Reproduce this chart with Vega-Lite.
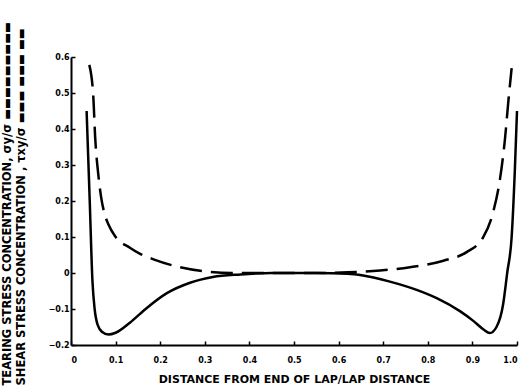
{
  "$schema": "https://vega.github.io/schema/vega-lite/v6.json",
  "width": 446,
  "height": 288,
  "autosize": {"type": "none"},
  "padding": {"left": 71, "right": 10, "top": 57, "bottom": 43},
  "background": "white",
  "config": {"view": {"stroke": null}},
  "datasets": {
    "tearing": [
      {"x": 0.035, "y": 0.45}, {"x": 0.042, "y": 0.2}, {"x": 0.048, "y": -0.02},
      {"x": 0.053, "y": -0.1}, {"x": 0.06, "y": -0.145}, {"x": 0.07, "y": -0.164},
      {"x": 0.084, "y": -0.171}, {"x": 0.1, "y": -0.166}, {"x": 0.132, "y": -0.138},
      {"x": 0.17, "y": -0.097}, {"x": 0.215, "y": -0.056}, {"x": 0.267, "y": -0.027},
      {"x": 0.318, "y": -0.011}, {"x": 0.38, "y": -0.004}, {"x": 0.45, "y": 0},
      {"x": 0.5, "y": 0}, {"x": 0.55, "y": 0}, {"x": 0.62, "y": -0.002},
      {"x": 0.655, "y": -0.007}, {"x": 0.715, "y": -0.024}, {"x": 0.775, "y": -0.047},
      {"x": 0.82, "y": -0.07}, {"x": 0.872, "y": -0.106}, {"x": 0.902, "y": -0.133},
      {"x": 0.925, "y": -0.157}, {"x": 0.939, "y": -0.167}, {"x": 0.954, "y": -0.15},
      {"x": 0.969, "y": -0.086}, {"x": 0.978, "y": 0.0}, {"x": 0.988, "y": 0.1},
      {"x": 0.995, "y": 0.28}, {"x": 1.0, "y": 0.45}
    ],
    "shear": [
      {"x": 0.041, "y": 0.578}, {"x": 0.05, "y": 0.49}, {"x": 0.054, "y": 0.381},
      {"x": 0.061, "y": 0.276}, {"x": 0.067, "y": 0.215}, {"x": 0.074, "y": 0.17},
      {"x": 0.084, "y": 0.135}, {"x": 0.099, "y": 0.102}, {"x": 0.132, "y": 0.07},
      {"x": 0.155, "y": 0.053}, {"x": 0.185, "y": 0.038}, {"x": 0.244, "y": 0.016},
      {"x": 0.304, "y": 0.004}, {"x": 0.36, "y": 0}, {"x": 0.45, "y": 0},
      {"x": 0.55, "y": 0}, {"x": 0.62, "y": 0.002}, {"x": 0.693, "y": 0.007},
      {"x": 0.76, "y": 0.016}, {"x": 0.835, "y": 0.034}, {"x": 0.887, "y": 0.058},
      {"x": 0.924, "y": 0.099}, {"x": 0.947, "y": 0.171}, {"x": 0.962, "y": 0.262},
      {"x": 0.973, "y": 0.372}, {"x": 0.981, "y": 0.482}, {"x": 0.988, "y": 0.569}
    ]
  },
  "encoding": {
    "x": {
      "field": "x", "type": "quantitative",
      "scale": {"domain": [0, 1], "nice": false, "zero": false},
      "axis": {
        "values": [0, 0.1, 0.2, 0.3, 0.4, 0.5, 0.6, 0.7, 0.8, 0.9, 1.0],
        "labelExpr": "datum.value == 0 ? '0' : format(datum.value, '.1f')",
        "title": "DISTANCE FROM END OF LAP/LAP DISTANCE",
        "titleFont": "DejaVu Sans", "titleFontSize": 11, "titleFontWeight": "bold",
        "titleColor": "black", "titlePadding": 9,
        "labelFont": "DejaVu Sans", "labelFontSize": 8, "labelFontWeight": "bold",
        "labelColor": "black", "labelPadding": 15,
        "domainColor": "black", "domainWidth": 2,
        "tickColor": "black", "tickSize": -4, "tickWidth": 1.5,
        "grid": false
      }
    },
    "y": {
      "field": "y", "type": "quantitative",
      "scale": {"domain": [-0.2, 0.6], "nice": false, "zero": false},
      "axis": {
        "values": [-0.2, -0.1, 0, 0.1, 0.2, 0.3, 0.4, 0.5, 0.6],
        "labelExpr": "datum.value == 0 ? '0' : format(datum.value, '.1f')",
        "title": ["TEARING STRESS CONCENTRATION, σy/σ ▬▬▬▬▬▬▬▬▬", "SHEAR STRESS CONCENTRATION , τxy/σ ▬▬▬  ▬▬▬  ▬▬"],
        "titleAngle": 270, "titleAlign": "left", "titleBaseline": "top",
        "titleX": -70, "titleY": 328, "titleLineHeight": 14,
        "titleFont": "DejaVu Sans", "titleFontSize": 11.5, "titleFontWeight": "bold",
        "titleColor": "black",
        "labelFont": "DejaVu Sans", "labelFontSize": 8, "labelFontWeight": "bold",
        "labelColor": "black", "labelPadding": 6,
        "domainColor": "black", "domainWidth": 2,
        "tickColor": "black", "tickSize": -4, "tickWidth": 1.5,
        "grid": false
      }
    }
  },
  "layer": [
    {
      "data": {"name": "shear"},
      "mark": {"type": "line", "color": "black", "strokeWidth": 2.5, "strokeDash": [22, 9], "interpolate": "monotone"}
    },
    {
      "data": {"name": "tearing"},
      "mark": {"type": "line", "color": "black", "strokeWidth": 2.5, "interpolate": "monotone"}
    }
  ]
}
